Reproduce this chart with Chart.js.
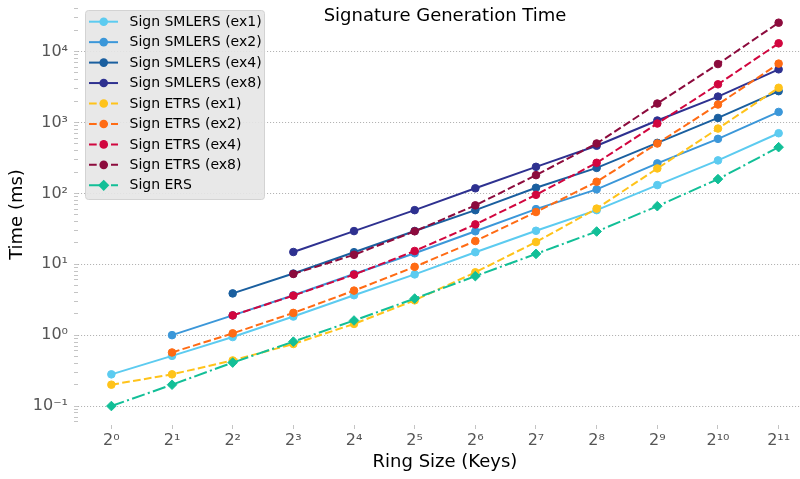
<!DOCTYPE html>
<html>
<head>
<meta charset="utf-8">
<title>Signature Generation Time</title>
<script src="https://cdn.jsdelivr.net/npm/chart.js"></script>
<style>
  html, body { margin: 0; padding: 0; overflow: hidden; background: #fff; }
  #wrap { width: 800px; height: 479px; overflow: hidden; }
  canvas { display: block; }
</style>
</head>
<body>
<div id="wrap"><canvas id="myChart" width="812" height="479"></canvas></div>
<script>
// ring size exponents: x = 2^n
const exponents = [0, 1, 2, 3, 4, 5, 6, 7, 8, 9, 10, 11];

// times in ms, null where the scheme has no value
const smlersEx1 = [0.28, 0.51, 0.94, 1.83, 3.66, 7.2, 14.8, 29.7, 58, 131, 292, 706];
const smlersEx2 = [null, 1.0, 1.9, 3.65, 7.3, 14.3, 29.2, 60, 114, 265, 588, 1410];
const smlersEx4 = [null, null, 3.88, 7.4, 14.8, 29.5, 58, 120, 229, 516, 1160, 2770];
const smlersEx8 = [null, null, null, 14.9, 29.4, 58, 118, 237, 470, 1067, 2320, 5630];
const etrsEx1 = [0.20, 0.28, 0.44, 0.75, 1.44, 3.1, 7.7, 20.6, 61, 225, 822, 3090];
const etrsEx2 = [null, 0.57, 1.06, 2.06, 4.25, 9.2, 21.3, 54.6, 146, 506, 1795, 6780];
const etrsEx4 = [null, null, 1.9, 3.61, 7.14, 15.4, 36.5, 95.5, 270, 968, 3460, 13100];
const etrsEx8 = [null, null, null, 7.3, 13.6, 29.2, 67.8, 181, 506, 1853, 6680, 25600];
const ers = [0.10, 0.20, 0.41, 0.81, 1.61, 3.28, 6.8, 14.0, 29, 66, 159, 449];

const seriesLabels = [
  'Sign SMLERS (ex1)', 'Sign SMLERS (ex2)', 'Sign SMLERS (ex4)', 'Sign SMLERS (ex8)',
  'Sign ETRS (ex1)', 'Sign ETRS (ex2)', 'Sign ETRS (ex4)', 'Sign ETRS (ex8)', 'Sign ERS'
];
const seriesValues = [smlersEx1, smlersEx2, smlersEx4, smlersEx8, etrsEx1, etrsEx2, etrsEx4, etrsEx8, ers];

const yMin = 0.054;
const yMax = 47000;
const yDecades = [-2, -1, 0, 1, 2, 3, 4];

// styles
const colors = ['#5ccbf0', '#3b97d9', '#1a5f9f', '#2e3190', '#ffc31a', '#ff6b14', '#d1063f', '#8c0b3d', '#12bf97'];
const DASHED = [7.7, 3.3];
const DASHDOT = [13.3, 3.3, 2.1, 3.3];
const dashes = [[], [], [], [], DASHED, DASHED, DASHED, DASHED, DASHDOT];
const markers = ['circle', 'circle', 'circle', 'circle', 'circle', 'circle', 'circle', 'circle', 'rectRot'];

const FONT = 'DejaVu Sans';
const SUP = { '0': '⁰', '1': '¹', '2': '²', '3': '³', '4': '⁴', '5': '⁵', '6': '⁶', '7': '⁷', '8': '⁸', '9': '⁹', '-': '⁻' };
const sup = n => String(n).split('').map(c => SUP[c]).join('');

function isDecade(v) {
  const l = Math.log10(v);
  return Math.abs(l - Math.round(l)) < 1e-9;
}

const datasets = seriesValues.map((vals, i) => ({
  label: seriesLabels[i],
  data: exponents.map((e, k) => ({ x: e, y: vals[k] })).filter(p => p.y !== null),
  borderColor: colors[i],
  backgroundColor: colors[i],
  borderWidth: 2,
  borderDash: dashes[i],
  pointStyle: markers[i],
  pointRadius: markers[i] === 'rectRot' ? 4.8 : 3.8,
  pointBorderWidth: 1,
  pointHoverRadius: markers[i] === 'rectRot' ? 4.8 : 3.8,
  tension: 0,
  fill: false,
  order: seriesValues.length - i
}));

// legend box and title, drawn in matplotlib style
const overlay = {
  id: 'overlay',
  afterDraw(chart) {
    const ctx = chart.ctx;
    const area = chart.chartArea;
    ctx.save();

    ctx.fillStyle = '#000';
    ctx.font = '18px "' + FONT + '"';
    ctx.textAlign = 'center';
    ctx.textBaseline = 'alphabetic';
    ctx.fillText('Signature Generation Time', (area.left + area.right) / 2, 20.7);

    const bx = 85.5, by = 10.5, bw = 179, bh = 189, r = 3;
    ctx.beginPath();
    ctx.moveTo(bx + r, by);
    ctx.arcTo(bx + bw, by, bx + bw, by + bh, r);
    ctx.arcTo(bx + bw, by + bh, bx, by + bh, r);
    ctx.arcTo(bx, by + bh, bx, by, r);
    ctx.arcTo(bx, by, bx + bw, by, r);
    ctx.closePath();
    ctx.fillStyle = 'rgba(229,229,229,0.9)';
    ctx.fill();
    ctx.strokeStyle = '#d3d3d3';
    ctx.lineWidth = 1;
    ctx.stroke();

    chart.data.datasets.forEach((ds, i) => {
      const y = 21.7 + i * 20.45;
      ctx.strokeStyle = ds.borderColor;
      ctx.lineWidth = 2;
      ctx.setLineDash(ds.borderDash);
      ctx.beginPath();
      ctx.moveTo(89, y);
      ctx.lineTo(118, y);
      ctx.stroke();
      ctx.setLineDash([]);

      const mx = 103.7;
      ctx.fillStyle = ds.backgroundColor;
      ctx.beginPath();
      if (ds.pointStyle === 'rectRot') {
        const d = 5.6;
        ctx.moveTo(mx - d, y);
        ctx.lineTo(mx, y - d);
        ctx.lineTo(mx + d, y);
        ctx.lineTo(mx, y + d);
        ctx.closePath();
      } else {
        ctx.arc(mx, y, 4.3, 0, Math.PI * 2);
      }
      ctx.fill();

      ctx.fillStyle = '#000';
      ctx.font = '14px "' + FONT + '"';
      ctx.textAlign = 'left';
      ctx.textBaseline = 'middle';
      ctx.fillText(ds.label, 129.5, y + 0.5);
    });
    ctx.restore();
  }
};

const ctx = document.getElementById('myChart').getContext('2d');
const myChart = new Chart(ctx, {
  type: 'line',
  data: { datasets: datasets },
  plugins: [overlay],
  options: {
    responsive: false,
    animation: false,
    devicePixelRatio: 1,
    layout: { autoPadding: false, padding: { top: 4, left: 0, right: 0, bottom: 0 } },
    plugins: {
      legend: { display: false },
      tooltip: { enabled: false },
      title: { display: false }
    },
    scales: {
      x: {
        type: 'linear',
        min: -0.55,
        max: 11.55,
        afterBuildTicks: scale => {
          scale.ticks = exponents.map(e => ({ value: e }));
        },
        afterFit: scale => {
          scale.height = 54;
          scale.paddingLeft = 0;
          scale.paddingRight = 0;
        },
        ticks: {
          autoSkip: false,
          maxRotation: 0,
          padding: 2,
          color: '#555',
          font: { family: FONT, size: 16 },
          callback: v => '2' + sup(v)
        },
        grid: {
          drawOnChartArea: false,
          drawTicks: true,
          tickLength: 4,
          tickColor: '#c4c4c4'
        },
        border: { display: false },
        title: {
          display: true,
          text: 'Ring Size (Keys)',
          color: '#000',
          font: { family: FONT, size: 18 },
          padding: { top: 0, bottom: 6 }
        }
      },
      y: {
        type: 'logarithmic',
        min: yMin,
        max: yMax,
        afterBuildTicks: scale => {
          const t = [];
          yDecades.forEach(e => {
            for (let m = 1; m <= 9; m++) {
              const v = m * Math.pow(10, e);
              if (v >= yMin && v <= yMax) t.push({ value: v, major: m === 1 });
            }
          });
          scale.ticks = t;
        },
        afterFit: scale => {
          scale.width = 78;
          scale.paddingTop = 0;
          scale.paddingBottom = 0;
        },
        ticks: {
          autoSkip: false,
          padding: 6,
          color: '#555',
          font: { family: FONT, size: 16 },
          callback: v => isDecade(v) ? '10' + sup(Math.round(Math.log10(v))) : ''
        },
        grid: {
          color: c => (c.tick && isDecade(c.tick.value)) ? '#b3b3b3' : 'rgba(0,0,0,0)',
          lineWidth: 1,
          tickLength: 4,
          tickColor: '#c4c4c4',
          tickBorderDash: []
        },
        border: { display: false, dash: [1.1, 1.9] },
        title: {
          display: true,
          text: 'Time (ms)',
          color: '#000',
          font: { family: FONT, size: 18 },
          padding: { top: 7, bottom: 0 }
        }
      }
    }
  }
});
</script>
</body>
</html>
